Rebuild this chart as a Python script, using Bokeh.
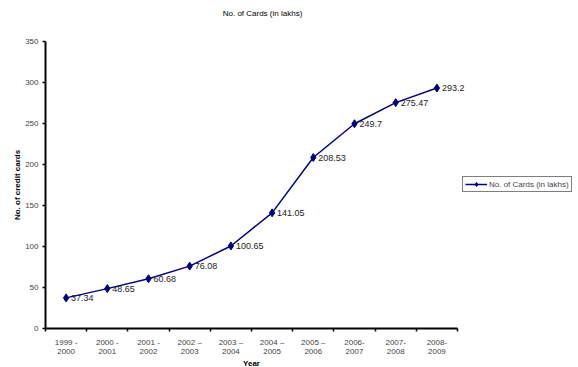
from math import pi
from bokeh.plotting import figure
from bokeh.models import FixedTicker, Legend, LegendItem, ColumnDataSource, Range1d, Label
from bokeh.core.properties import value
from bokeh.embed import file_html
from bokeh.resources import INLINE

years = ["1999 -\n2000", "2000 -\n2001", "2001 -\n2002", "2002 \u2013\n2003", "2003 \u2013\n2004",
         "2004 \u2013\n2005", "2005 \u2013\n2006", "2006-\n2007", "2007-\n2008", "2008-\n2009"]
cards = [37.34, 48.65, 60.68, 76.08, 100.65, 141.05, 208.53, 249.7, 275.47, 293.2]
y_ticks = [0, 50, 100, 150, 200, 250, 300, 350]
y_max = 350
title_text = "No. of Cards (in lakhs)"
series_name = "No. of Cards (in lakhs)"
x_title = "Year"
y_title = "No. of credit cards"

FONT = "Liberation Sans"
n = len(years)
xs = [i + 0.5 for i in range(n)]
src = ColumnDataSource(dict(x=xs, y=cards, lbl=[str(v) for v in cards]))

# layout (pixels): plot area of the axes inside the full canvas
W, H = 578, 367
AX_L, AX_R = 45, 457      # x axis span
AX_T, AX_B = 41, 328      # y axis span (top = y_max, bottom = 0)
ppx = (AX_R - AX_L) / n
ppy = (AX_B - AX_T) / y_max
x_rng = Range1d(-AX_L / ppx, (W - AX_L) / ppx)
y_rng = Range1d(-(H - AX_B) / ppy, y_max + AX_T / ppy)

p = figure(width=W, height=H, x_range=x_rng, y_range=y_rng,
           output_backend="svg", toolbar_location=None,
           min_border_left=0, min_border_right=0, min_border_top=0, min_border_bottom=0)
p.outline_line_color = None
p.xgrid.visible = False
p.ygrid.visible = False
p.background_fill_color = "white"
p.border_fill_color = "white"

# x axis: labels centred in categories, ticks at boundaries (minor)
p.xaxis.fixed_location = 0
p.xaxis.bounds = (0, n)
p.xaxis.ticker = FixedTicker(ticks=xs, minor_ticks=list(range(n + 1)))
p.xaxis.major_label_overrides = {x: lab for x, lab in zip(xs, years)}
p.xaxis.major_tick_out = 0
p.xaxis.major_tick_in = 0
p.xaxis.minor_tick_out = 3
p.xaxis.minor_tick_in = 0
p.xaxis.minor_tick_line_width = 1.5
p.xaxis.axis_line_width = 2
p.xaxis.major_label_text_font = FONT
p.xaxis.major_label_text_font_size = "8px"
p.xaxis.major_label_text_line_height = 1.05
p.xaxis.major_label_standoff = 6

p.yaxis.fixed_location = 0
p.yaxis.bounds = (0, y_max)
p.yaxis.ticker = FixedTicker(ticks=y_ticks, minor_ticks=[])
p.yaxis.major_tick_out = 3
p.yaxis.major_tick_in = 0
p.yaxis.major_tick_line_width = 1.5
p.yaxis.axis_line_width = 2
p.yaxis.major_label_text_font = FONT
p.yaxis.major_label_text_font_size = "8px"
p.yaxis.major_label_standoff = 4

ln = p.line("x", "y", source=src, line_color="#000080", line_width=1.5)
mk = p.scatter("x", "y", source=src, marker="diamond", size=8, fill_color="#000080", line_color="#000080")
p.text("x", "y", text="lbl", source=src, x_offset=5, text_baseline="middle",
       text_font=value(FONT), text_font_size="9px", text_color="#222222")

p.add_layout(Label(x=262, y=H - 13, x_units="screen", y_units="screen", text=title_text,
                   text_align="center", text_baseline="middle", text_font=FONT,
                   text_font_size="8px", text_color="black"))
p.add_layout(Label(x=(AX_L + AX_R) / 2, y=H - 363, x_units="screen", y_units="screen",
                   text=x_title, text_align="center", text_baseline="middle", text_font=FONT,
                   text_font_size="8px", text_font_style="bold", text_color="black"))
p.add_layout(Label(x=17, y=H - (AX_T + AX_B) / 2, x_units="screen", y_units="screen",
                   text=y_title, angle=pi / 2, text_align="center", text_baseline="middle",
                   text_font=FONT, text_font_size="8px", text_font_style="bold",
                   text_color="black"))

legend = Legend(items=[LegendItem(label=series_name, renderers=[ln, mk])],
                location=(462, H - 192), border_line_color="black", border_line_width=1,
                label_text_font=FONT, label_text_font_size="8px",
                glyph_width=22, glyph_height=10, padding=2, spacing=0, margin=0,
                label_standoff=2, background_fill_color="white")
p.add_layout(legend)

open("out.html", "w").write(file_html(p, INLINE))
